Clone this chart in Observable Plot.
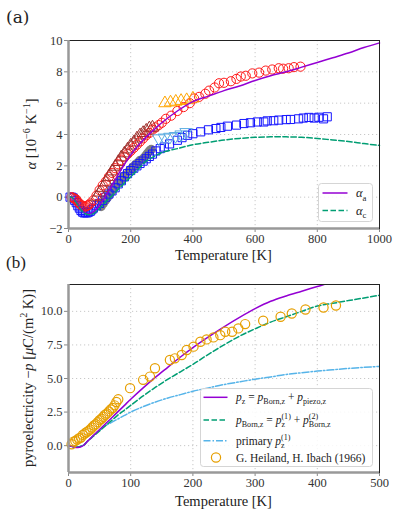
<!DOCTYPE html>
<html><head><meta charset="utf-8">
<script src="https://cdn.jsdelivr.net/npm/d3@7"></script>
<script src="https://cdn.jsdelivr.net/npm/@observablehq/plot@0.6"></script>
<style>
body{margin:0;background:#fff;}
#wrap{position:relative;width:398px;height:516px;overflow:hidden;}
#wrap > svg{position:absolute;left:0;}
</style></head><body><div id="wrap"></div>
<script>
// ---------- Panel (a): thermal expansion ----------
const xDomA = [0, 1000], yDomA = [-2, 10];
const xTicksA = [0, 200, 400, 600, 800, 1000];
const yTicksA = [-2, 0, 2, 4, 6, 8, 10];

const alphaT = [0,10,20,30,40,50,60,70,80,90,100,120,140,160,180,200,220,250,280,300,350,400,450,500,550,600,650,700,750,800,850,900,950,1000];
const alphaA = [0,0,-0.15,-0.45,-0.75,-0.95,-1.05,-1.05,-0.95,-0.75,-0.5,0.1,0.75,1.45,2.1,2.7,3.2,3.85,4.4,4.75,5.5,6.1,6.45,6.8,7.1,7.45,7.75,8.0,8.3,8.6,8.9,9.2,9.55,9.85];
const alphaC = [0,0,-0.2,-0.5,-0.8,-1.0,-1.1,-1.12,-1.05,-0.9,-0.72,-0.3,0.1,0.5,0.9,1.3,1.7,2.3,2.65,2.85,3.1,3.35,3.5,3.65,3.75,3.82,3.85,3.85,3.82,3.75,3.65,3.55,3.42,3.3];

const redT = [10,15,20,25,30,35,40,45,50,55,60,65,70,80,90,100,110,120,130,140,150,160,170,180,190,200,210,220,230,240,250,260,270,280,290,300,313,330,350,370,390,404,420,440,452,470,484,500,522,540,554,570,591,613,634,655,676,690,708,725,746];
const redA = [0,-0.05,-0.1,-0.15,-0.3,-0.4,-0.5,-0.55,-0.6,-0.6,-0.55,-0.5,-0.4,-0.2,0.1,0.45,0.75,1.0,1.3,1.55,1.85,2.1,2.35,2.55,2.75,2.95,3.15,3.35,3.55,3.75,3.95,4.1,4.3,4.45,4.6,4.75,5.0,5.2,5.5,5.75,6.0,6.3,6.4,6.6,6.8,7.0,7.27,7.3,7.4,7.55,7.7,7.75,7.9,7.95,8.08,8.15,8.23,8.2,8.23,8.3,8.33];

const blueT = [5,10,15,20,25,30,35,40,45,50,55,60,65,70,75,80,90,100,110,120,130,140,150,160,170,180,190,200,210,220,230,240,250,260,270,281,295,308,325,350,365,383,400,425,450,474,490,511,540,564,585,607,628,639,660,676,700,714,740,755,773,790,805,820,832];
const blueA = [0,0,-0.05,-0.2,-0.35,-0.55,-0.7,-0.85,-0.95,-1.0,-1.0,-1.0,-0.95,-0.9,-0.8,-0.7,-0.55,-0.4,-0.2,0.0,0.2,0.4,0.6,0.85,1.05,1.3,1.5,1.7,1.85,2.0,2.15,2.3,2.45,2.6,2.75,2.95,3.1,3.2,3.4,3.63,3.8,3.95,4.05,4.17,4.3,4.38,4.45,4.53,4.6,4.7,4.75,4.8,4.8,4.87,4.88,4.92,4.95,4.96,5.0,5.05,5.09,5.05,5.1,5.0,5.13];

const orangeTriT = [310,328,345,362,380,400];
const orangeTriA = [6.0,6.05,6.1,6.15,6.2,6.3];
const skyTriT = [290,308,326,344,362,378];
const skyTriA = [3.75,3.8,3.85,3.9,4.0,4.15];
const brownT = [90,100,110,120,130,140,150,160,170,180,190,200,210,220,230,240,250,260,270];
const brownA = [0.0,0.3,0.6,0.95,1.3,1.65,1.95,2.25,2.55,2.8,3.05,3.3,3.5,3.75,3.95,4.1,4.25,4.4,4.45];
const grayT = [105,112,119,126,133,140,147,154,161,168,175,182,195,202,209,216,223,230,242,248,254,260,266];
const grayA = [-0.6,-0.4,-0.2,0.0,0.2,0.4,0.6,0.8,0.95,1.1,1.25,1.4,1.65,1.8,1.95,2.1,2.2,2.35,2.5,2.65,2.8,2.95,3.05];

// ---------- Panel (b): pyroelectricity ----------
const xDomB = [0, 500], yDomB = [-2, 12];
const xTicksB = [0, 100, 200, 300, 400, 500];
const yTicksB = [0, 2.5, 5, 7.5, 10];

const pT = [0,5,10,15,20,25,30,40,50,60,70,80,90,100,120,140,160,180,200,225,250,275,300,325,350,375,400,425,450,475,500];
const pz = [0,-0.05,-0.12,-0.13,-0.08,0.05,0.3,0.75,1.2,1.65,2.1,2.55,3.0,3.45,4.3,5.1,5.85,6.6,7.3,8.1,8.85,9.55,10.2,10.75,11.15,11.5,11.85,12.2,12.5,12.8,13.1];
const pBorn = [0,-0.05,-0.1,-0.1,-0.05,0.05,0.3,0.7,1.1,1.5,1.9,2.3,2.65,3.0,3.7,4.35,4.95,5.5,6.05,6.8,7.5,8.15,8.7,9.2,9.6,10.0,10.4,10.6,10.8,11.0,11.2];
const pPrim = [0,-0.05,-0.1,-0.1,-0.05,0.05,0.3,0.75,1.15,1.5,1.75,2.0,2.25,2.5,2.9,3.25,3.55,3.8,4.05,4.3,4.55,4.75,4.95,5.12,5.3,5.43,5.55,5.65,5.75,5.83,5.9];

const expT = [5,8,11,14,17,20,23,26,29,32,35,38,41,44,47,50,53,56,59,62,65,68,71,74,77,80,99,120,131,139,163,171,182,190,201,212,222,233,244,252,263,273,284,313,341,359,381,410,430];
const expP = [0.1,0.3,0.35,0.45,0.55,0.6,0.8,0.9,1.0,1.1,1.2,1.35,1.5,1.6,1.75,1.9,2.0,2.15,2.3,2.4,2.55,2.7,2.8,3.0,3.25,3.45,4.28,4.9,5.14,5.76,6.38,6.5,6.75,7.12,7.37,7.74,7.91,8.06,8.23,8.48,8.48,8.73,9.05,9.3,9.6,9.84,10.14,10.29,10.44];

// ---------- colours / style ----------
const FONT = "'Liberation Serif', 'Times New Roman', Times, 'DejaVu Serif', serif";
const C_PURPLE = "#9400d3", C_GREEN = "#009e73", C_SKY = "#56b4e9", C_ORANGE = "#e69f00";
const pts = (xs, ys) => xs.map((x, i) => ({x, y: ys[i]}));

const common = (xTicks, yTicks, yFmt) => [
  Plot.gridX(xTicks, {stroke: "#c8c8c8", strokeOpacity: 1, strokeDasharray: "1.2,2.8"}),
  Plot.gridY(yTicks, {stroke: "#c8c8c8", strokeOpacity: 1, strokeDasharray: "1.2,2.8"}),
  Plot.axisX(xTicks, {tickSize: 4, tickPadding: 2, stroke: "#888", fill: "#333", fontSize: 12.5, label: null, tickFormat: d => String(d), fontFamily: FONT}),
  Plot.axisY(yTicks, {tickSize: 4, tickPadding: 2, stroke: "#888", fill: "#333", fontSize: 12.5, label: null, tickFormat: yFmt, fontFamily: FONT})
];

const wrap = document.getElementById("wrap");

const topPlot = Plot.plot({
  width: 398, height: 265,
  marginLeft: 68, marginRight: 19, marginTop: 40, marginBottom: 37,
  x: {domain: xDomA}, y: {domain: yDomA},
  style: {fontFamily: FONT, fontSize: "12.5px", color: "#333", background: "transparent", overflow: "visible"},
  marks: [
    ...common(xTicksA, yTicksA, d => String(d).replace("-", "−")),
    Plot.dot(pts(grayT, grayA), {x: "x", y: "y", r: 4.6, fill: "#808080", stroke: "none"}),
    Plot.dot(pts(blueT, blueA), {x: "x", y: "y", symbol: "square", r: 4.6, stroke: "#1515ff", fill: "none", strokeWidth: 1}),
    Plot.dot(pts(redT, redA), {x: "x", y: "y", r: 4.6, stroke: "#ff1a1a", fill: "none", strokeWidth: 1}),
    Plot.dot(pts(brownT, brownA), {x: "x", y: "y", symbol: "triangle", r: 4.6, stroke: "#a0312d", fill: "none", strokeWidth: 1}),
    Plot.dot(pts(orangeTriT, orangeTriA), {x: "x", y: "y", symbol: "triangle", r: 4.6, stroke: "#ffa500", fill: "none", strokeWidth: 1}),
    Plot.dot(pts(skyTriT, skyTriA), {x: "x", y: "y", symbol: "triangle", rotate: 180, r: 4.6, stroke: "#5dade2", fill: "none", strokeWidth: 1}),
    Plot.line(pts(alphaT, alphaA), {x: "x", y: "y", stroke: C_PURPLE, strokeWidth: 1.5, curve: "catmull-rom"}),
    Plot.line(pts(alphaT, alphaC), {x: "x", y: "y", stroke: C_GREEN, strokeWidth: 1.5, strokeDasharray: "5.5,2.5", curve: "catmull-rom"}),
    Plot.frame({stroke: "#222", strokeWidth: 1}),
    Plot.ruleX([xDomA[0]], {stroke: "#999", strokeWidth: 2.5}),
    Plot.ruleY([yDomA[0]], {stroke: "#999", strokeWidth: 2.5})
  ]
});
topPlot.style.top = "0px";
wrap.appendChild(topPlot);

const botPlot = Plot.plot({
  width: 398, height: 251,
  marginLeft: 68, marginRight: 19, marginTop: 19, marginBottom: 44,
  x: {domain: xDomB}, y: {domain: yDomB},
  style: {fontFamily: FONT, fontSize: "12.5px", color: "#333", background: "transparent", overflow: "visible"},
  marks: [
    ...common(xTicksB, yTicksB, d3.format(".1f")),
    Plot.line(pts(pT, pPrim), {x: "x", y: "y", stroke: C_SKY, strokeWidth: 1.5, strokeDasharray: "7,2,1.5,2", curve: "catmull-rom", clip: true}),
    Plot.line(pts(pT, pBorn), {x: "x", y: "y", stroke: C_GREEN, strokeWidth: 1.5, strokeDasharray: "5.5,2.5", curve: "catmull-rom", clip: true}),
    Plot.line(pts(pT, pz), {x: "x", y: "y", stroke: C_PURPLE, strokeWidth: 1.5, curve: "catmull-rom", clip: true}),
    Plot.dot(pts(expT, expP), {x: "x", y: "y", r: 4.6, stroke: C_ORANGE, fill: "none", strokeWidth: 1.2}),
    Plot.frame({stroke: "#222", strokeWidth: 1}),
    Plot.ruleX([xDomB[0]], {stroke: "#999", strokeWidth: 2.5}),
    Plot.ruleY([yDomB[0]], {stroke: "#999", strokeWidth: 2.5})
  ]
});
botPlot.style.top = "265px";
wrap.appendChild(botPlot);

// ---------- overlay: labels and legends ----------
const ov = d3.select(wrap).append("svg")
  .attr("width", 398).attr("height", 516)
  .attr("font-family", FONT)
  .style("top", "0px");

function rich(parent, x, y, size, parts, opts = {}) {
  const t = parent.append("text").attr("x", x).attr("y", y)
    .attr("font-size", size).attr("fill", "#222").attr("font-family", opts.font || FONT);
  if (opts.anchor) t.attr("text-anchor", opts.anchor);
  if (opts.transform) t.attr("transform", opts.transform);
  let off = 0, pending = 0;
  const s2 = size * 0.7;
  function span(str, shift, fs, italic, dx) {
    const s = t.append("tspan").text(str).attr("font-size", fs).attr("dy", shift - off);
    off = shift;
    if (italic) s.attr("font-style", "italic");
    const d = (dx || 0) + pending; pending = 0;
    if (d) s.attr("dx", d);
    return s;
  }
  for (const p of parts) {
    if (p.t !== undefined) span(p.t, 0, size, p.it);
    if (p.sup !== undefined && p.sub !== undefined) {
      const a = span(p.sup, -size * 0.42, s2);
      const w = a.node().getComputedTextLength();
      const b = span(p.sub, size * 0.28, s2, false, -w);
      const w2 = b.node().getComputedTextLength();
      if (w2 < w) pending = w - w2;
    } else if (p.sup !== undefined) span(p.sup, -size * 0.42, s2);
    else if (p.sub !== undefined) span(p.sub, size * 0.28, s2);
  }
  return t;
}

// panel tags
rich(ov, 6, 23, 17, [{t: "(a)"}], {font: "'DejaVu Serif'"});
rich(ov, 6, 268, 17, [{t: "(b)"}], {font: "'Liberation Serif'"});
// x labels
rich(ov, 223.5, 260, 14.5, [{t: "Temperature [K]"}], {anchor: "middle", font: "Tinos, 'Liberation Serif'"});
rich(ov, 223.5, 506, 14.5, [{t: "Temperature [K]"}], {anchor: "middle"});
// y labels
rich(ov, 36, 134, 14.5, [{t: "α", it: true}, {t: " [10", sup: "−6"}, {t: " K", sup: "−1"}, {t: "]"}],
  {anchor: "middle", transform: "rotate(-90,36,134)"});
rich(ov, 33, 378, 14.5, [{t: "pyroelectricity −"}, {t: "p", it: true}, {t: " ["}, {t: "μ", it: true}, {t: "C/(m", sup: "2"}, {t: " K)]"}],
  {anchor: "middle", transform: "rotate(-90,33,378)"});

// legend (a)
const lgA = ov.append("g");
lgA.append("rect").attr("x", 318.5).attr("y", 183.5).attr("width", 54).attr("height", 38).attr("rx", 3)
  .attr("fill", "#fff").attr("fill-opacity", 0.85).attr("stroke", "#d5d5d5");
lgA.append("line").attr("x1", 322.5).attr("x2", 347.5).attr("y1", 193).attr("y2", 193).attr("stroke", C_PURPLE).attr("stroke-width", 1.5);
lgA.append("line").attr("x1", 322.5).attr("x2", 347.5).attr("y1", 210.5).attr("y2", 210.5).attr("stroke", C_GREEN).attr("stroke-width", 1.5).attr("stroke-dasharray", "5.5,2.5");
rich(lgA, 356, 197, 12.5, [{t: "α", it: true, sub: "a"}]);
rich(lgA, 356, 214.5, 12.5, [{t: "α", it: true, sub: "c"}]);

// legend (b)
const lgB = ov.append("g");
lgB.append("rect").attr("x", 200.5).attr("y", 388.5).attr("width", 172).attr("height", 78).attr("rx", 3)
  .attr("fill", "#fff").attr("fill-opacity", 0.85).attr("stroke", "#d5d5d5");
lgB.append("line").attr("x1", 203.5).attr("x2", 227.5).attr("y1", 397.3).attr("y2", 397.3).attr("stroke", C_PURPLE).attr("stroke-width", 1.5);
lgB.append("line").attr("x1", 203.5).attr("x2", 227.5).attr("y1", 420).attr("y2", 420).attr("stroke", C_GREEN).attr("stroke-width", 1.5).attr("stroke-dasharray", "5.5,2.5");
lgB.append("line").attr("x1", 203.5).attr("x2", 227.5).attr("y1", 440.7).attr("y2", 440.7).attr("stroke", C_SKY).attr("stroke-width", 1.5).attr("stroke-dasharray", "7,2,1.5,2");
lgB.append("circle").attr("cx", 216).attr("cy", 457.5).attr("r", 4.6).attr("fill", "none").attr("stroke", C_ORANGE).attr("stroke-width", 1.2);
rich(lgB, 236, 400.5, 11.5, [{t: "p", it: true, sub: "z"}, {t: " = "}, {t: "p", it: true, sub: "Born,z"}, {t: " + "}, {t: "p", it: true, sub: "piezo,z"}]);
rich(lgB, 236, 423.5, 11.5, [{t: "p", it: true, sub: "Born,z"}, {t: " = "}, {t: "p", it: true, sup: "(1)", sub: "z"}, {t: " + "}, {t: "p", it: true, sup: "(2)", sub: "Born,z"}]);
rich(lgB, 236, 444.5, 11.5, [{t: "primary "}, {t: "p", it: true, sup: "(1)", sub: "z"}]);
rich(lgB, 236, 461.5, 11.5, [{t: "G. Heiland, H. Ibach (1966)"}]);
</script></body></html>
